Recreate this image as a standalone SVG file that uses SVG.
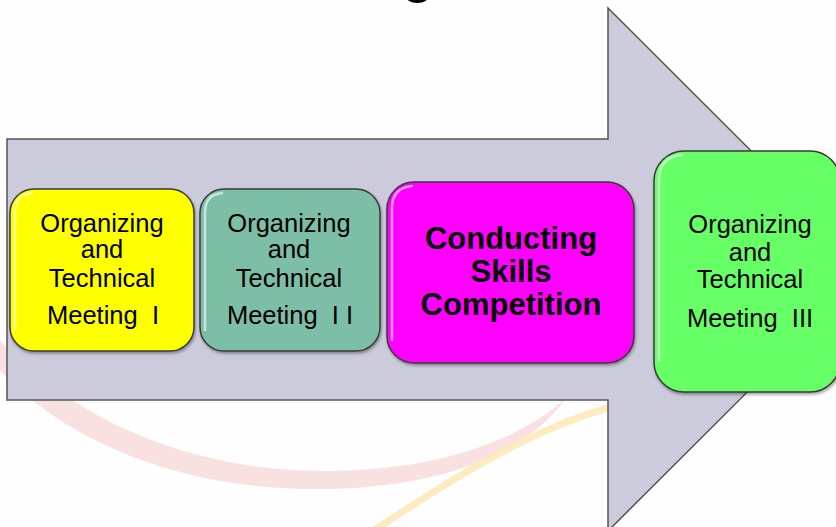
<svg xmlns="http://www.w3.org/2000/svg" width="836" height="527" viewBox="0 0 836 527">
  <defs>
    <filter id="sh" x="-10%" y="-10%" width="130%" height="130%">
      <feDropShadow dx="1" dy="2" stdDeviation="1.5" flood-color="#000" flood-opacity="0.35"/>
    </filter>
  </defs>
  <style>
    .box { stroke: #3a3a3a; stroke-width: 1.5; filter: url(#sh); }
    .hl { fill: none; stroke: #ffffff; stroke-opacity: 0.6; stroke-width: 2.5; stroke-linecap: round; }
    .t { font-family: "Liberation Sans", Arial, sans-serif; font-size: 25.5px; fill: #000; text-anchor: middle; white-space: pre; }
    .tb { font-family: "Liberation Sans", Arial, sans-serif; font-size: 31px; font-weight: bold; fill: #000; text-anchor: middle; }
  </style>
  <rect width="836" height="527" fill="#fefefe"/>
  <!-- background swooshes -->
  <g id="background">
    <path d="M -10 360 C 60 440 180 492 330 489 C 450 486 530 450 566 398 C 520 440 440 470 330 471 C 190 472 70 420 -10 330 Z" fill="#f9dada" opacity="0.8"/>
    <path d="M 352 545 C 450 480 540 420 640 400 C 720 388 790 384 850 378" fill="none" stroke="#fbe9b4" stroke-width="7" opacity="0.85"/>
  </g>
  <text class="tb" x="418" y="-8" style="font-size:52px">g</text>
  <!-- big arrow -->
  <g id="arrow">
    <polygon points="7,139 608,139 608,8 870,269.5 608,531 608,400 7,400" fill="#cbcbdb" stroke="#555" stroke-width="1.5"/>
  </g>
  <g id="connectors"></g>
  <g id="node1">
    <rect class="box" x="10" y="189" width="184" height="162" rx="24" fill="#ffff00"/>
    <path class="hl" d="M 15 330 L 15 212 Q 15 195 32 193"/>
    <text class="t" x="102" y="232">Organizing</text>
    <text class="t" x="102" y="258">and</text>
    <text class="t" x="102" y="287">Technical</text>
    <text class="t" x="103" y="324">Meeting  I</text>
  </g>
  <g id="node2">
    <rect class="box" x="200" y="189" width="180" height="162" rx="24" fill="#7bbfa6"/>
    <path class="hl" d="M 205 330 L 205 212 Q 205 195 222 193"/>
    <text class="t" x="289" y="232">Organizing</text>
    <text class="t" x="289" y="258">and</text>
    <text class="t" x="289" y="287">Technical</text>
    <text class="t" x="290" y="324">Meeting  I I</text>
  </g>
  <g id="node3">
    <rect class="box" x="387" y="182" width="247" height="181" rx="27" fill="#ff00ff"/>
    <path class="hl" d="M 392 340 L 392 208 Q 392 188 412 186"/>
    <text class="tb" x="511" y="249">Conducting</text>
    <text class="tb" x="511" y="282">Skills</text>
    <text class="tb" x="511" y="315">Competition</text>
  </g>
  <g id="node4">
    <rect class="box" x="654" y="151" width="186" height="241" rx="30" fill="#66ff66"/>
    <path class="hl" d="M 659 360 L 659 180 Q 659 157 682 155"/>
    <text class="t" x="750" y="233">Organizing</text>
    <text class="t" x="750" y="261">and</text>
    <text class="t" x="750" y="288">Technical</text>
    <text class="t" x="750" y="327">Meeting  III</text>
  </g>
</svg>
